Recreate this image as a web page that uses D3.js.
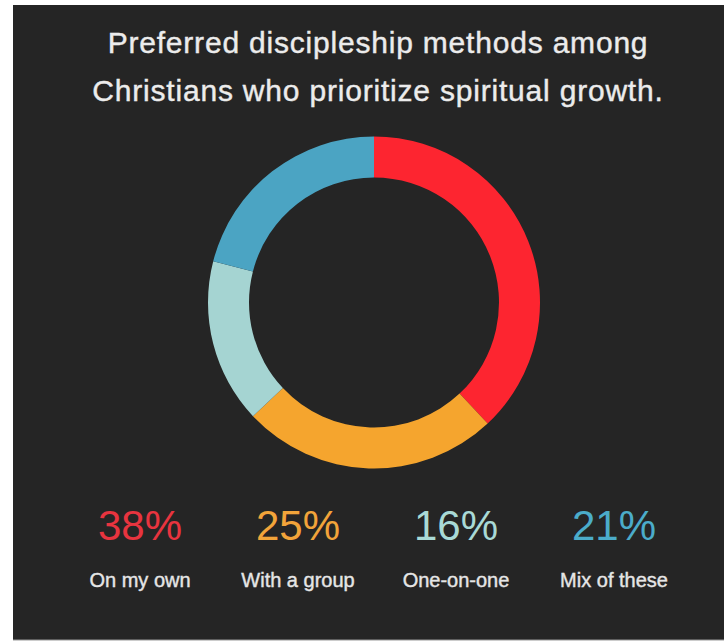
<!DOCTYPE html>
<html>
<head>
<meta charset="utf-8">
<script src="https://cdn.jsdelivr.net/npm/d3@7"></script>
<style>
  html, body { margin: 0; padding: 0; background: #ffffff; }
  svg { display: block; }
</style>
</head>
<body>
<svg id="viz"></svg>
<script>
const width = 724;
const height = 642;

const titleLines = [
  'Preferred discipleship methods among',
  'Christians who prioritize spiritual growth.',
];
const categories = ['On my own', 'With a group', 'One-on-one', 'Mix of these'];
const values = [38, 25, 16, 21];
const ringColors = ['#fd2530', '#f5a52e', '#a5d4d2', '#4ba4c3'];
const labelColors = ['#e8343f', '#f2a43a', '#a9dad6', '#4bacca'];

const data = categories.map((c, i) => ({ name: c, value: values[i], i: i }));

const svg = d3.select('#viz').attr('width', width).attr('height', height);

// dark panel
svg
  .append('rect')
  .attr('x', 13)
  .attr('y', 5)
  .attr('width', width - 13)
  .attr('height', 635)
  .attr('fill', '#252525');
svg
  .append('line')
  .attr('x1', 13)
  .attr('x2', width)
  .attr('y1', 640)
  .attr('y2', 640)
  .attr('stroke', '#9a9a9a')
  .attr('stroke-width', 1);

// title
svg
  .append('g')
  .selectAll('text')
  .data(titleLines)
  .join('text')
  .attr('x', 378)
  .attr('y', (d, i) => 53 + i * 48)
  .attr('text-anchor', 'middle')
  .attr('fill', '#ececec')
  .attr('stroke', '#ececec')
  .attr('stroke-width', 0.4)
  .style('font-family', "'Liberation Sans', Arial, sans-serif")
  .style('font-size', '30px')
  .style('letter-spacing', '0.8px')
  .text((d) => d);

// donut ring
const pie = d3.pie().value((d) => d.value).sort(null);
const arc = d3.arc().innerRadius(125).outerRadius(166);

svg
  .append('g')
  .attr('transform', 'translate(374,302.5)')
  .selectAll('path')
  .data(pie(data))
  .join('path')
  .attr('d', arc)
  .attr('fill', (d) => ringColors[d.data.i]);

// legend: percentages + labels
const x = d3.scalePoint().domain(categories).range([140, 614]);

const legend = svg
  .append('g')
  .selectAll('g')
  .data(data)
  .join('g')
  .attr('transform', (d) => 'translate(' + x(d.name) + ',0)');

legend
  .append('text')
  .attr('y', 540)
  .attr('text-anchor', 'middle')
  .attr('fill', (d) => labelColors[d.i])
  .style('font-family', "'Liberation Sans', Arial, sans-serif")
  .style('font-size', '42px')
  .text((d) => d.value + '%');

legend
  .append('text')
  .attr('y', 587)
  .attr('text-anchor', 'middle')
  .attr('fill', '#e6e6e6')
  .attr('stroke', '#e6e6e6')
  .attr('stroke-width', 0.4)
  .style('font-family', "'Liberation Sans', Arial, sans-serif")
  .style('font-size', '20px')
  .text((d) => d.name);
</script>
</body>
</html>
